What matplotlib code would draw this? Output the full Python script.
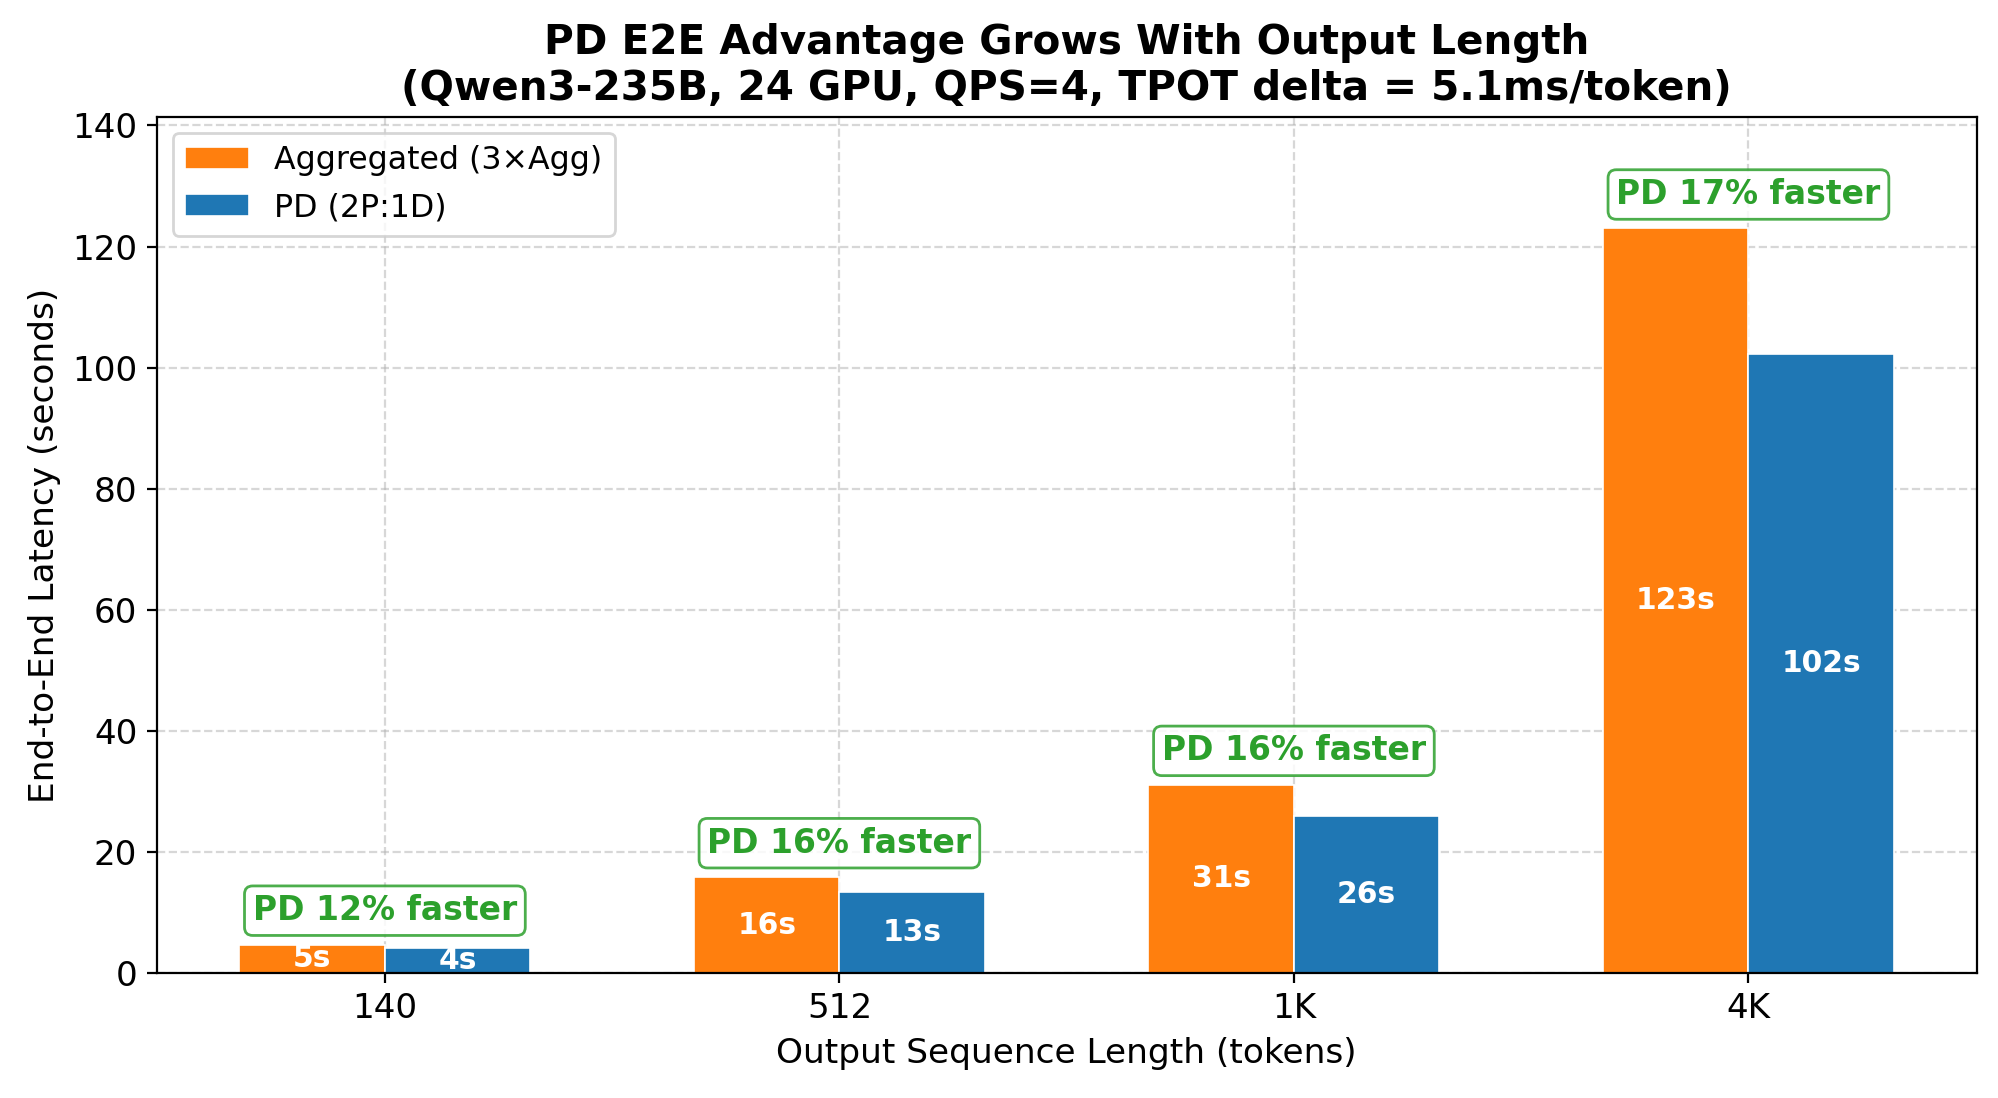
import numpy as np
import matplotlib
matplotlib.use("Agg")
import matplotlib.pyplot as plt

# output lengths and measured E2E latency (seconds)
osl_labels = ["140", "512", "1K", "4K"]
agg_latency = [4.7, 15.85, 31.1, 123.0]
pd_latency = [4.15, 13.35, 26.0, 102.3]
speedup_labels = ["PD 12% faster", "PD 16% faster", "PD 16% faster", "PD 17% faster"]

x = np.arange(len(osl_labels))
w = 0.32

fig, ax = plt.subplots(figsize=(9.995, 5.49), dpi=200)

b1 = ax.bar(x - w / 2, agg_latency, w, color="#ff7f0e", edgecolor="white",
            linewidth=0.6, label="Aggregated (3\u00d7Agg)")
b2 = ax.bar(x + w / 2, pd_latency, w, color="#1f77b4", edgecolor="white",
            linewidth=0.6, label="PD (2P:1D)")

# values inside the bars
for bars in (b1, b2):
    for b in bars:
        h = b.get_height()
        ax.text(b.get_x() + b.get_width() / 2, h / 2, f"{h:.0f}s",
                ha="center", va="center", color="white",
                fontsize=10.7, fontweight="bold")

# speedup callouts
for i, lbl in enumerate(speedup_labels):
    top = max(agg_latency[i], pd_latency[i])
    ax.text(x[i], top + 5.6, lbl, ha="center", va="center",
            color="#2ca02c", fontsize=11.9, fontweight="bold",
            bbox=dict(boxstyle="round,pad=0.25", facecolor="white",
                      edgecolor="#2ca02c", linewidth=1.0, alpha=0.85))

ax.set_xticks(x)
ax.set_xticklabels(osl_labels, fontsize=12.3)
ax.tick_params(axis="y", labelsize=12.3)
ax.set_ylim(0, max(agg_latency) * 1.15)
ax.set_xlabel("Output Sequence Length (tokens)", fontsize=12.4)
ax.set_ylabel("End-to-End Latency (seconds)", fontsize=12.4)
ax.set_title("PD E2E Advantage Grows With Output Length\n"
             "(Qwen3-235B, 24 GPU, QPS=4, TPOT delta = 5.1ms/token)",
             fontsize=14.6, fontweight="bold")
ax.grid(True, linestyle="--", alpha=0.5)
ax.set_axisbelow(True)
ax.legend(loc="upper left", fontsize=11.4)

plt.subplots_adjust(left=0.0784, right=0.9888, top=0.8937, bottom=0.1138)
plt.savefig("out.png")
